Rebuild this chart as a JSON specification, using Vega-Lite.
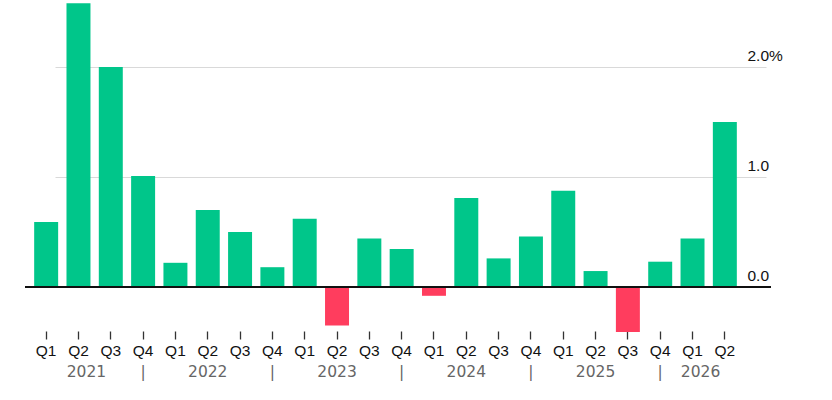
{
  "$schema": "https://vega.github.io/schema/vega-lite/v6.json",
  "description": "Quarterly change, percent, 2021 Q1 to 2026 Q2",
  "autosize": {"type": "none"},
  "padding": {"left": 25, "top": 1, "right": 61, "bottom": 69},
  "width": 746,
  "height": 330,
  "background": "white",
  "config": {"view": {"stroke": null}, "font": "Liberation Sans"},
  "data": {
    "values": [
      {"q": "2021 Q1", "v": 0.59},
      {"q": "2021 Q2", "v": 2.58},
      {"q": "2021 Q3", "v": 2.0},
      {"q": "2021 Q4", "v": 1.01},
      {"q": "2022 Q1", "v": 0.22},
      {"q": "2022 Q2", "v": 0.70},
      {"q": "2022 Q3", "v": 0.50},
      {"q": "2022 Q4", "v": 0.18},
      {"q": "2023 Q1", "v": 0.62},
      {"q": "2023 Q2", "v": -0.35},
      {"q": "2023 Q3", "v": 0.44},
      {"q": "2023 Q4", "v": 0.345},
      {"q": "2024 Q1", "v": -0.08},
      {"q": "2024 Q2", "v": 0.81},
      {"q": "2024 Q3", "v": 0.26},
      {"q": "2024 Q4", "v": 0.46},
      {"q": "2025 Q1", "v": 0.875},
      {"q": "2025 Q2", "v": 0.145},
      {"q": "2025 Q3", "v": -0.41},
      {"q": "2025 Q4", "v": 0.23},
      {"q": "2026 Q1", "v": 0.44},
      {"q": "2026 Q2", "v": 1.5}
    ]
  },
  "resolve": {"axis": {"x": "independent"}},
  "layer": [
    {
      "mark": {"type": "bar"},
      "encoding": {
        "x": {
          "field": "q",
          "type": "nominal",
          "sort": null,
          "scale": {"range": [5, 716], "paddingInner": 0.258, "paddingOuter": 0.129},
          "axis": {
            "orient": "bottom",
            "title": null,
            "domain": false,
            "ticks": true,
            "tickSize": 8,
            "tickWidth": 1.3,
            "tickColor": "#333333",
            "labelAngle": 0,
            "labelExpr": "slice(datum.value, 5)",
            "labelFontSize": 15.5,
            "labelColor": "#111111",
            "labelPadding": 4
          }
        },
        "y": {
          "field": "v",
          "type": "quantitative",
          "scale": {"domain": [-0.4, 2.6], "nice": false},
          "axis": {
            "orient": "right",
            "title": null,
            "values": [0, 1, 2],
            "domain": false,
            "ticks": false,
            "grid": true,
            "gridColor": "#d9d9d9",
            "gridWidth": 1,
            "labelExpr": "datum.value === 2 ? '2.0%' : format(datum.value, '.1f')",
            "labelAlign": "left",
            "labelBaseline": "alphabetic",
            "labelPadding": -24,
            "labelOffset": -7,
            "labelFontSize": 15.5,
            "labelColor": "#111111"
          }
        },
        "color": {
          "condition": {"test": "datum.v < 0", "value": "#ff3d5e"},
          "value": "#00c68a"
        }
      }
    },
    {
      "mark": {"type": "bar", "opacity": 0},
      "encoding": {
        "x": {
          "field": "q",
          "type": "nominal",
          "sort": null,
          "axis": {
            "orient": "bottom",
            "title": null,
            "domain": false,
            "ticks": false,
            "labelAngle": 0,
            "labelExpr": "(datum.value === '2021 Q2' || datum.value === '2022 Q2' || datum.value === '2023 Q2' || datum.value === '2024 Q2' || datum.value === '2025 Q2' || datum.value === '2026 Q1') ? slice(datum.value, 0, 4) : (slice(datum.value, 5) === 'Q4' ? '|' : '')",
            "labelOffset": {"condition": {"test": "datum.value === '2021 Q2' || datum.value === '2026 Q1'", "value": 8}, "value": 0},
            "labelFont": "DejaVu Sans",
            "labelFontSize": 15.5,
            "labelColor": "#666666",
            "labelPadding": 33,
            "labelOverlap": false
          }
        }
      }
    },
    {
      "mark": {"type": "rule", "color": "#111111", "strokeWidth": 1.5},
      "encoding": {"y": {"datum": 0}}
    }
  ]
}
